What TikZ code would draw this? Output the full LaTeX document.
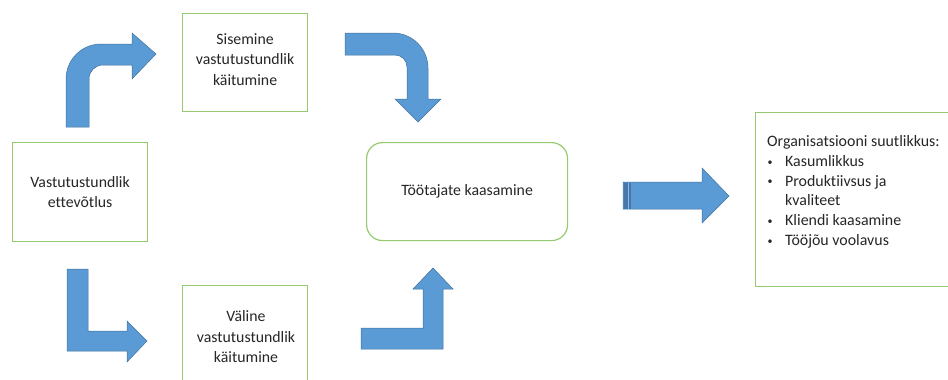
\documentclass[tikz,border=0pt]{standalone}
\usepackage{fontspec}
\setmainfont{Carlito}[Ligatures=NoCommon]
\definecolor{boxgreen}{RGB}{150,202,112}
\definecolor{arrowfill}{RGB}{91,155,213}
\definecolor{arrowline}{RGB}{65,113,156}
\definecolor{arrowdark}{RGB}{70,120,172}
\definecolor{txt}{RGB}{38,38,38}
\newcommand{\orgbullet}{\makebox[18pt][l]{\hspace{0.5pt}\raisebox{1.2pt}{\fontsize{10}{10}\selectfont •}}}
\begin{document}
\begin{tikzpicture}[x=1pt,y=-1pt,
  greenbox/.style={draw=boxgreen,line width=1.2pt,fill=white},
  blockarrow/.style={fill=arrowfill,draw=arrowline,line width=0.5pt,line join=miter},
  lbl/.style={font=\fontsize{15.8}{20.5}\selectfont,text=txt,align=center,inner sep=0pt}]
\useasboundingbox (0,0) rectangle (948,380);
% boxes
\node[greenbox,minimum width=135pt,minimum height=99pt,anchor=north west,inner sep=0pt] (vastbox) at (12,142) {};
\node[lbl] (vast) at (vastbox.center) {Vastutustundlik\\ettevõtlus};
\node[greenbox,minimum width=125pt,minimum height=98pt,anchor=north west,inner sep=0pt] (sisbox) at (182,13) {};
\node[lbl] (sis) at ([yshift=3pt]sisbox.center) {Sisemine\\vastutustundlik\\käitumine};
\node[greenbox,minimum width=125pt,minimum height=110pt,anchor=north west,inner sep=0pt] (valbox) at (182,285) {};
\node[lbl] (val) at (246,337) {Väline\\vastutustundlik\\käitumine};
\node[greenbox,rounded corners=16pt,minimum width=201pt,minimum height=98pt,anchor=north west,inner sep=0pt] (tootbox) at (366,142) {};
\node[lbl] (toot) at (tootbox.center) {Töötajate kaasamine};
\node[greenbox,minimum width=200pt,minimum height=174pt,anchor=north west,inner sep=0pt] (orgbox) at (755,112) {};
\node[lbl,align=left,anchor=north west,font=\fontsize{15.9}{19.7}\selectfont] (org) at (767,135.5) {Organisatsiooni suutlikkus:\\
\orgbullet Kasumlikkus\\
\orgbullet Produktiivsus ja\\
\hspace*{18pt}kvaliteet\\
\orgbullet Kliendi kaasamine\\
\orgbullet Tööjõu voolavus};
% arrow 1: up then right (curved)
\path[blockarrow] (66,127) -- (66,79) .. controls (66,59.7) and (81.7,44) .. (101,44)
  -- (132,44) -- (132,33) -- (156,54) -- (132,79) -- (132,65) -- (103,65)
  .. controls (95.3,65) and (89,71.3) .. (89,79) -- (89,127) -- cycle;
% arrow 2: right then down (curved)
\path[blockarrow] (345,33) -- (393,33) .. controls (412.3,33) and (428,48.7) .. (428,68)
  -- (428,99) -- (441,99) -- (418,122) -- (395,99) -- (407,99) -- (407,67)
  .. controls (407,60.4) and (401.6,55) .. (395,55) -- (345,55) -- cycle;
% arrow 3: down then right (sharp)
\path[blockarrow] (67,269) -- (88,269) -- (88,331) -- (127,331) -- (127,321) -- (147,341)
  -- (127,362) -- (127,351) -- (67,351) -- cycle;
% arrow 4: right then up (sharp)
\path[blockarrow] (361,328) -- (423,328) -- (423,289) -- (413,289) -- (433,268) -- (453,289)
  -- (443,289) -- (443,349) -- (361,349) -- cycle;
% arrow 5: right
\path[blockarrow] (623,182) -- (702,182) -- (702,168) -- (729,196) -- (702,223) -- (702,209)
  -- (623,209) -- cycle;
\fill[arrowdark] (623.5,182.5) rectangle (631,208.5);
\fill[arrowfill!70!white] (627.5,182.5) rectangle (628.6,208.5);
\end{tikzpicture}
\end{document}
